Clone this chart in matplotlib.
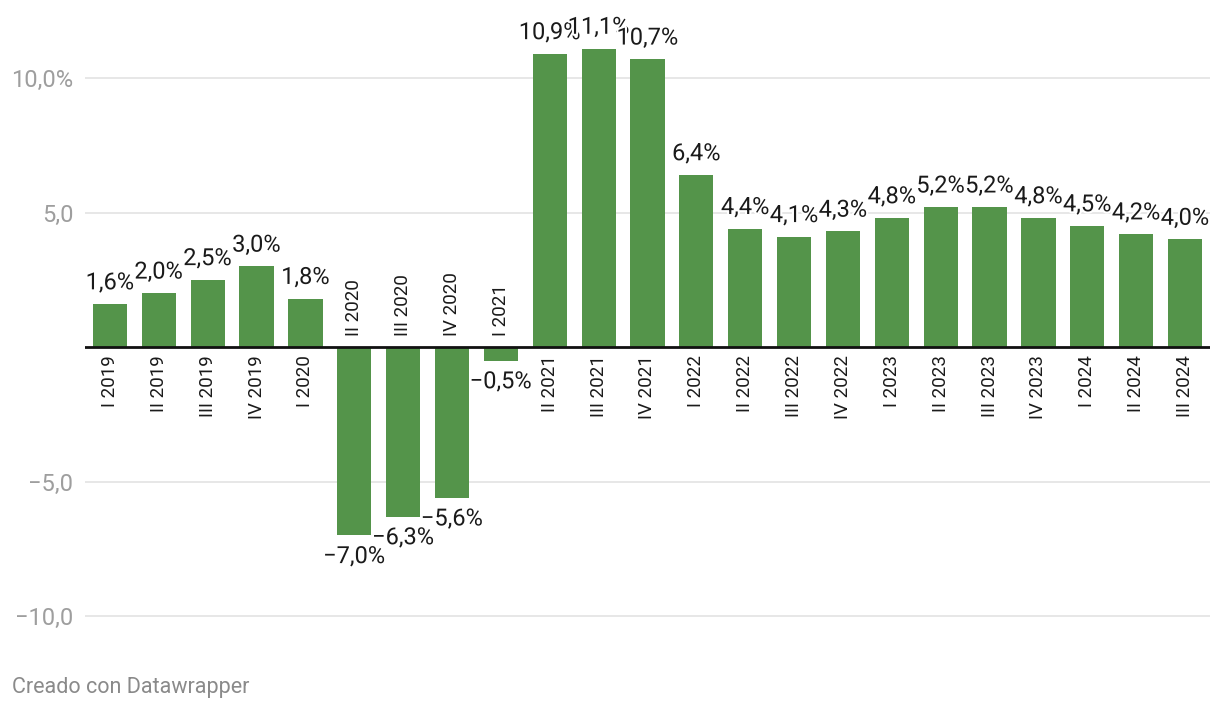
import matplotlib
matplotlib.use("Agg")
import matplotlib.pyplot as plt
import matplotlib.patheffects as pe
from matplotlib.transforms import offset_copy

categories = ["I 2019", "II 2019", "III 2019", "IV 2019", "I 2020", "II 2020", "III 2020",
              "IV 2020", "I 2021", "II 2021", "III 2021", "IV 2021", "I 2022", "II 2022",
              "III 2022", "IV 2022", "I 2023", "II 2023", "III 2023", "IV 2023", "I 2024",
              "II 2024", "III 2024"]
values = [1.6, 2.0, 2.5, 3.0, 1.8, -7.0, -6.3, -5.6, -0.5, 10.9, 11.1, 10.7, 6.4, 4.4,
          4.1, 4.3, 4.8, 5.2, 5.2, 4.8, 4.5, 4.2, 4.0]
yticks = [10, 5, -5, -10]
ytick_labels = ["10,0%", "5,0", "\u22125,0", "\u221210,0"]

plt.rcParams['font.family'] = ['Roboto', 'DejaVu Sans']

W, H = 1220, 712
fig = plt.figure(figsize=(W / 100, H / 100), dpi=100)
ax = fig.add_axes([85 / W, (H - 640) / H, 1125 / W, 620 / H])
ax.set_xlim(-0.51, 22.51)
ax.set_ylim(-10.89, 12.16)

x = list(range(len(values)))
ax.bar(x, values, width=0.70, color="#54944a", zorder=2)

for y in yticks:
    ax.axhline(y, color="#e3e3e3", linewidth=1.2, zorder=1)
ax.axhline(0, color="#111111", linewidth=2, zorder=3)

ax.set_yticks(yticks)
ax.set_yticklabels(ytick_labels, fontsize=17, color="#9e9e9e")
ax.tick_params(axis="y", length=0, pad=8.5)
ax.set_xticks([])
for s in ax.spines.values():
    s.set_visible(False)

halo = [pe.withStroke(linewidth=3, foreground="white")]

def fmt(v):
    s = f"{abs(v):.1f}".replace(".", ",") + "%"
    return ("\u2212" + s) if v < 0 else s

for xi, v, c in zip(x, values, categories):
    if v >= 0:
        t = offset_copy(ax.transData, fig=fig, x=0, y=7, units="points")
        ax.text(xi, v, fmt(v), transform=t, ha="center", va="bottom", fontsize=17,
                color="#1a1a1a", path_effects=halo, zorder=5)
        t2 = offset_copy(ax.transData, fig=fig, x=0, y=-6, units="points")
        ax.text(xi, 0, c, transform=t2, ha="center", va="top", rotation=90,
                fontsize=13.5, color="#1a1a1a", zorder=4)
    else:
        t = offset_copy(ax.transData, fig=fig, x=0, y=-7, units="points")
        ax.text(xi, v, fmt(v), transform=t, ha="center", va="top", fontsize=17,
                color="#1a1a1a", path_effects=halo, zorder=5)
        t2 = offset_copy(ax.transData, fig=fig, x=0, y=8, units="points")
        ax.text(xi, 0, c, transform=t2, ha="center", va="bottom", rotation=90,
                fontsize=13.5, color="#1a1a1a", zorder=4)

fig.text(12 / W, 1 - 688 / H, "Creado con Datawrapper", ha="left", va="center",
         fontsize=15.5, color="#8a8a8a")

fig.savefig("out.png", dpi=100)
